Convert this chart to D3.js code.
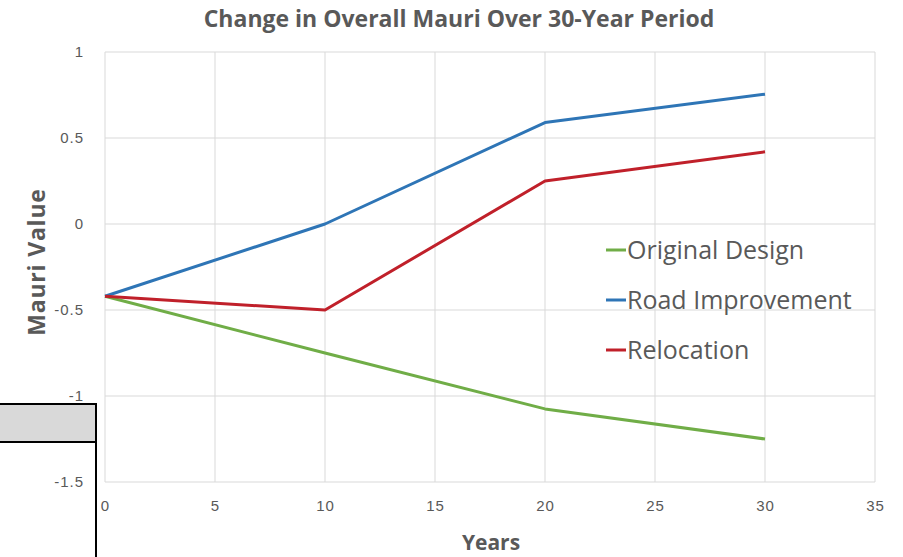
<!DOCTYPE html>
<html>
<head>
<meta charset="utf-8">
<script src="https://cdn.jsdelivr.net/npm/d3@7"></script>
<style>
  body { margin: 0; background: #fff; }
  svg { display: block; font-family: "Open Sans", "Liberation Sans", sans-serif; }
</style>
</head>
<body>
<svg id="chart" width="903" height="557"></svg>
<script>
// Years sampled and the mauri value of each option
const years = [0, 10, 20, 30];
const originalDesign = [-0.42, -0.75, -1.075, -1.25];
const roadImprovement = [-0.42, 0.0, 0.59, 0.755];
const relocation = [-0.42, -0.5, 0.25, 0.42];
const seriesNames = ["Original Design", "Road Improvement", "Relocation"];
const seriesColors = ["#70AD47", "#2E75B6", "#C0202A"];
const xTicks = [0, 5, 10, 15, 20, 25, 30, 35];
const yTicks = [1, 0.5, 0, -0.5, -1, -1.5];

const series = [originalDesign, roadImprovement, relocation].map((vals, i) => ({
  name: seriesNames[i],
  color: seriesColors[i],
  points: years.map((y, j) => ({ x: y, y: vals[j] }))
}));

const svg = d3.select("#chart");
const x = d3.scaleLinear().domain([0, 35]).range([105, 875]);
const y = d3.scaleLinear().domain([-1.5, 1]).range([482, 52]);

const textGray = "#595959";
const gridGray = "#d9d9d9";

// Gridlines
svg.append("g").selectAll("line.h").data(yTicks).join("line")
  .attr("x1", x(0)).attr("x2", x(35))
  .attr("y1", d => y(d)).attr("y2", d => y(d))
  .attr("stroke", gridGray).attr("stroke-width", 1);
svg.append("g").selectAll("line.v").data(xTicks).join("line")
  .attr("y1", y(1)).attr("y2", y(-1.5))
  .attr("x1", d => x(d)).attr("x2", d => x(d))
  .attr("stroke", gridGray).attr("stroke-width", 1);

// Axes (labels only, Excel style; plain hyphen for negatives)
const plain = d => String(d);
const yAxis = svg.append("g").attr("transform", `translate(${x(0)},0)`)
  .call(d3.axisLeft(y).tickValues(yTicks).tickSize(0).tickPadding(21).tickFormat(plain));
yAxis.select(".domain").remove();
yAxis.selectAll("text").attr("fill", textGray).attr("font-size", 15)
  .attr("letter-spacing", 1);

const xAxis = svg.append("g").attr("transform", `translate(0,${y(-1.5)})`)
  .call(d3.axisBottom(x).tickValues(xTicks).tickSize(0).tickPadding(18).tickFormat(plain));
xAxis.select(".domain").remove();
xAxis.selectAll("text").attr("fill", textGray).attr("font-size", 15)
  .attr("letter-spacing", 1);

// Series lines
const line = d3.line().x(d => x(d.x)).y(d => y(d.y));
svg.append("g").selectAll("path").data(series).join("path")
  .attr("d", d => line(d.points))
  .attr("fill", "none")
  .attr("stroke", d => d.color)
  .attr("stroke-width", 3)
  .attr("stroke-linejoin", "round");

// Legend
const legend = svg.append("g").selectAll("g").data(series).join("g")
  .attr("transform", (d, i) => `translate(606,${250 + i * 50})`);
legend.append("line").attr("x1", 0).attr("x2", 20).attr("y1", 0).attr("y2", 0)
  .attr("stroke", d => d.color).attr("stroke-width", 3);
legend.append("text").attr("x", 21).attr("dy", "0.35em")
  .attr("fill", textGray).attr("font-size", 25)
  .text(d => d.name);

// Titles
svg.append("text").attr("x", 459).attr("y", 27).attr("text-anchor", "middle")
  .attr("fill", textGray).attr("font-size", 23).attr("font-weight", "bold")
  .text("Change in Overall Mauri Over 30-Year Period");
svg.append("text").attr("x", 491).attr("y", 550).attr("text-anchor", "middle")
  .attr("fill", textGray).attr("font-size", 21).attr("font-weight", "bold")
  .text("Years");
svg.append("text").attr("transform", "translate(45,262) rotate(-90)")
  .attr("text-anchor", "middle")
  .attr("fill", textGray).attr("font-size", 23).attr("font-weight", "bold")
  .attr("letter-spacing", 0.8)
  .text("Mauri Value");

// Outlined panel at lower left
svg.append("rect").attr("x", -2).attr("y", 404).attr("width", 98).attr("height", 38)
  .attr("fill", "#d9d9d9");
svg.append("path").attr("d", "M-2,404 H96 V560 M-2,442 H96")
  .attr("fill", "none").attr("stroke", "#000").attr("stroke-width", 2);
</script>
</body>
</html>
